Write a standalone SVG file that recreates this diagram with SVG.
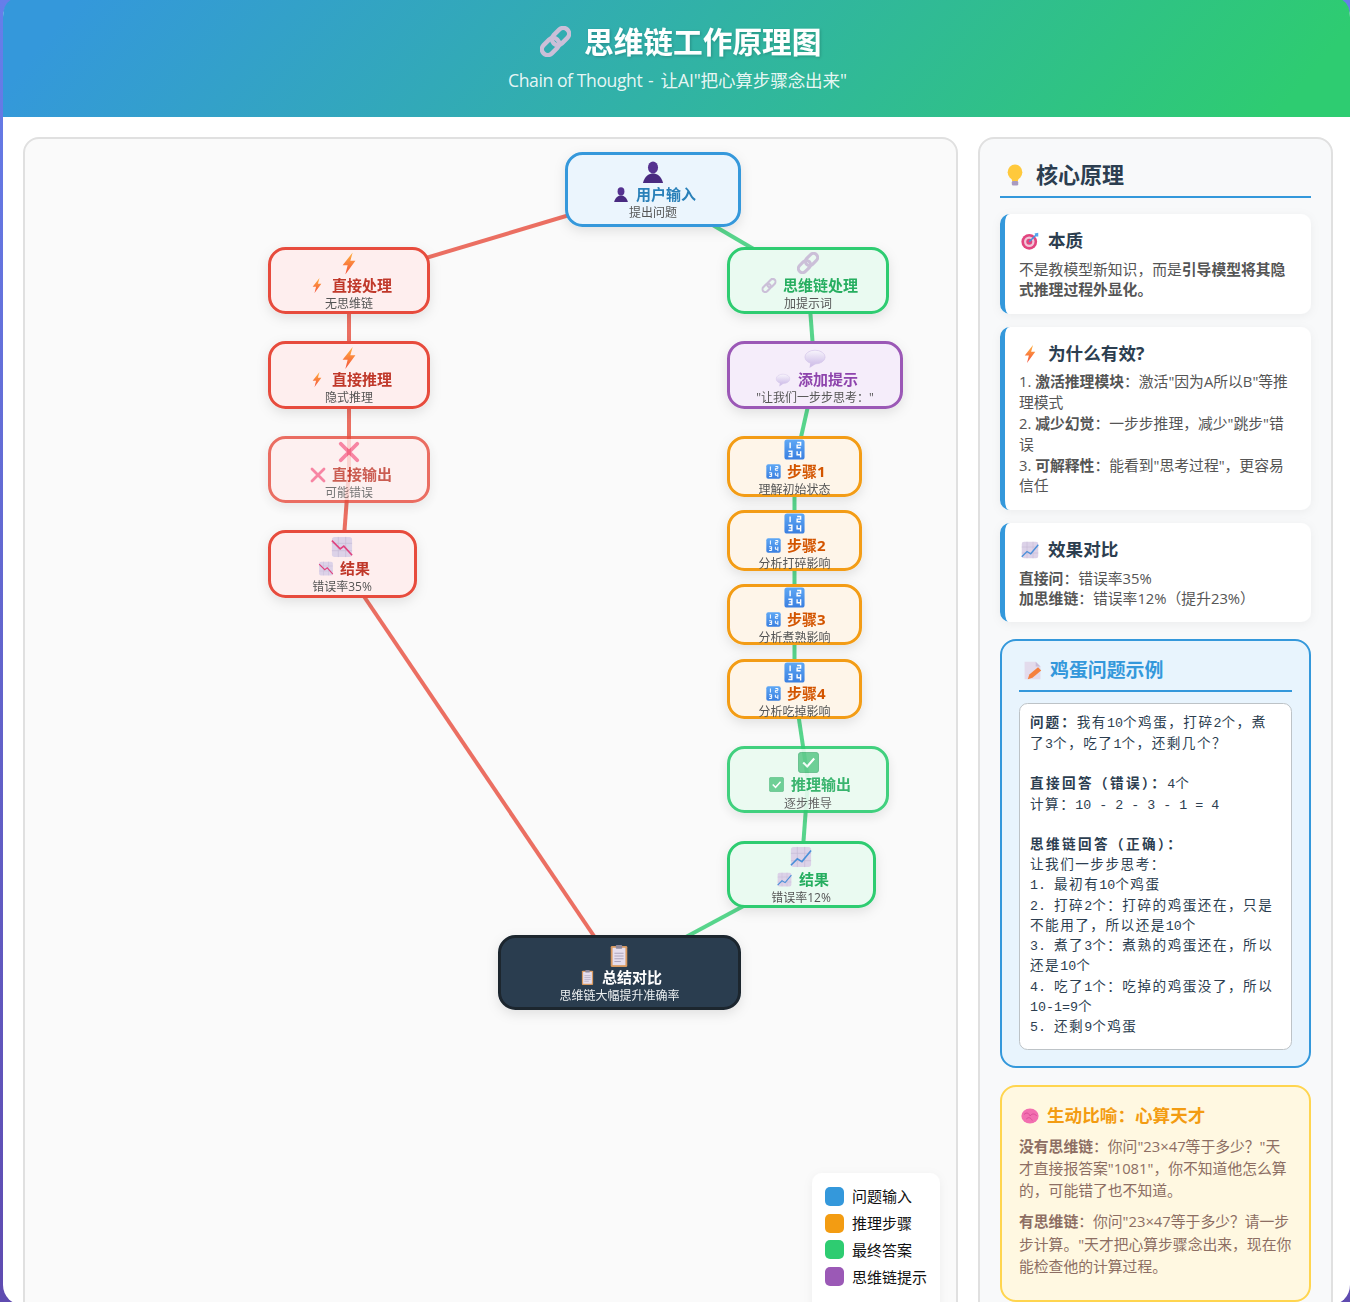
<svg xmlns="http://www.w3.org/2000/svg" width="1350" height="1302" viewBox="0 0 1350 1302">
<style>
text{font-family:"Open Sans","Noto Sans CJK SC","Noto Sans",sans-serif}
.n{stroke-width:3}
.blue{fill:#ebf5fd;stroke:#3498db}.red{fill:#feeeee;stroke:#e74c3c}.green{fill:#eafaf1;stroke:#2ecc71}.purple{fill:#f5edfa;stroke:#9b59b6}.orange{fill:#fef5e9;stroke:#f39c12}.dark{fill:#2c3e50;stroke:#1a252f}
.l{font-size:15px;font-weight:700}.s{font-size:12px;fill:#555;text-anchor:middle}
.lb{fill:#2980b9}.lr{fill:#c0392b}.lg{fill:#27ae60}.lp{fill:#8e44ad}.lo{fill:#d35400}.lw{fill:#fff}
.c{fill:none;stroke-width:4;stroke-opacity:.8}.cr{stroke:#e74c3c}.cg{stroke:#2ecc71}
.h4{font-size:17.6px;font-weight:700;fill:#2c3e50}
.w{fill:#fff}.bl{fill:#3498db}
.b{font-size:14.8px;fill:#555}.k{font-weight:700}
.e{font-size:13.6px;fill:#2c3e50;letter-spacing:1.5px}.e .m{font-family:"Liberation Mono",monospace;font-size:13.33px;letter-spacing:0}.e .k{letter-spacing:2.4px}.e .q{font-weight:700;letter-spacing:2px}
.a{font-size:14.8px;fill:#8d6e63}
.lg2{font-size:15px;fill:#111}
</style>
<defs>
<linearGradient id="bg" x1="0" y1="0" x2="0" y2="1"><stop offset="0" stop-color="#667eea"/><stop offset="1" stop-color="#5f4bb0"/></linearGradient>
<linearGradient id="hd" gradientUnits="userSpaceOnUse" x1="300" y1="-260" x2="1050" y2="380"><stop offset="0" stop-color="#3498db"/><stop offset="1" stop-color="#2ecc71"/></linearGradient>
<linearGradient id="gb" x1="0" y1="0" x2="0" y2="1"><stop offset="0" stop-color="#ffb23f"/><stop offset="1" stop-color="#f4503c"/></linearGradient>
<linearGradient id="gt" x1="0" y1="0" x2="0" y2="1"><stop offset="0" stop-color="#5fa8f5"/><stop offset="1" stop-color="#3a7fe0"/></linearGradient>
<linearGradient id="gs" x1="0" y1="0" x2="0" y2="1"><stop offset="0" stop-color="#f8f5fc"/><stop offset="1" stop-color="#d2c2ea"/></linearGradient>
<filter id="sh" x="-20%" y="-20%" width="140%" height="150%"><feDropShadow dx="0" dy="4" stdDeviation="6" flood-color="#000" flood-opacity=".1"/></filter>
<filter id="sc" x="-10%" y="-10%" width="120%" height="130%"><feDropShadow dx="0" dy="2" stdDeviation="5" flood-color="#000" flood-opacity=".05"/></filter>
<filter id="st" x="-5%" y="-20%" width="110%" height="150%"><feDropShadow dx="1" dy="1" stdDeviation="1.500" flood-color="#000" flood-opacity=".2"/></filter>
<symbol id="bolt" viewBox="0 0 24 24"><polygon points="16,0 5,14 10.500,14 8,24 19,9 13.500,9" fill="url(#gb)"/></symbol>
<symbol id="person" viewBox="0 0 24 24"><ellipse cx="12" cy="7" rx="5.500" ry="6.500" fill="#553090"/><path d="M1 24C3 16 8 13.500 12 13.500S21 16 23 24Z" fill="#4a2a80"/></symbol>
<symbol id="link" viewBox="0 0 24 24"><g transform="rotate(-45 12 12)" fill="none" stroke="#cbbfd8" stroke-width="3.400"><rect x="-1" y="7.500" width="15" height="9" rx="4.500"/><rect x="10" y="7.500" width="15" height="9" rx="4.500"/></g></symbol>
<symbol id="bubble" viewBox="0 0 24 24"><path d="M7 17L6 23L13.500 18Z" fill="#d2c2ea"/><ellipse cx="12" cy="11" rx="11" ry="7.500" fill="url(#gs)" stroke="#d6c8ea" stroke-width=".8"/></symbol>
<symbol id="cross" viewBox="0 0 24 24"><path d="M3 3L21 21M21 3L3 21" stroke="#f7688e" stroke-width="4.200" stroke-linecap="round"/></symbol>
<symbol id="chartd" viewBox="0 0 24 24"><rect x="1" y="1" width="22" height="22" rx="3" fill="#dcd2e8"/><path d="M8 1V23M16 1V23M1 8H23M1 16H23" stroke="#c5b9d5" stroke-width=".7"/><polyline points="1,5 10,14 14,11 23,21" fill="none" stroke="#e0437f" stroke-width="1.800"/></symbol>
<symbol id="chartu" viewBox="0 0 24 24"><rect x="1" y="1" width="22" height="22" rx="3" fill="#dcd2e8"/><path d="M8 1V23M16 1V23M1 8H23M1 16H23" stroke="#c5b9d5" stroke-width=".7"/><polyline points="1,21 8,14 13,17 23,5" fill="none" stroke="#4a90d9" stroke-width="1.800"/></symbol>
<symbol id="tile" viewBox="0 0 24 24"><rect x=".5" y=".5" width="23" height="23" rx="3" fill="url(#gt)"/><path d="M7 4V10.500M15 4H19V7H15V10H19M5 14H9V20H5M6 17H9M15 14V18H19M19 14V21" fill="none" stroke="#fff" stroke-width="1.600"/></symbol>
<symbol id="check" viewBox="0 0 24 24"><rect x=".5" y=".5" width="23" height="23" rx="3" fill="#5ecb8c" stroke="#4fb57c"/><polyline points="6,12 10.500,16.500 18.500,7.500" fill="none" stroke="#fff" stroke-width="2.400"/></symbol>
<symbol id="clip" viewBox="0 0 24 24"><rect x="3" y="1" width="18" height="23" rx="1.500" fill="#d99a60"/><rect x="5" y="3" width="14" height="19" fill="#e6deed"/><rect x="8.500" y="0" width="7" height="4" rx="1" fill="#8f8a9c"/><path d="M7 9H17M7 12H17M7 15H17M7 18H14" stroke="#a8a0b8" stroke-width="1"/></symbol>
<symbol id="bulb" viewBox="0 0 24 24"><ellipse cx="12" cy="9" rx="8" ry="8.500" fill="#ffc93c"/><path d="M8 15H16L15 19H9Z" fill="#ffc93c"/><rect x="8.500" y="18.500" width="7" height="5" rx="1.500" fill="#a99bc0"/></symbol>
<symbol id="target" viewBox="0 0 24 24"><circle cx="11" cy="13" r="10.500" fill="#e2457f"/><circle cx="11" cy="13" r="7" fill="#f1c6d8"/><circle cx="11" cy="13" r="4" fill="#e2457f"/><path d="M11 13L21 3" stroke="#3f94e0" stroke-width="2"/><path d="M18 2L23 1L23 6L20 6Z" fill="#55a7ee"/></symbol>
<symbol id="memo" viewBox="0 0 24 24"><path d="M2 1H16L22 7V23H2Z" fill="#e3dbec"/><path d="M16 1V7H22Z" fill="#c8bcd8"/><path d="M6 23L8 17L19 8L23 12L12 21Z" fill="#f5803e"/></symbol>
<symbol id="brain" viewBox="0 0 24 24"><ellipse cx="12" cy="12" rx="11.500" ry="10" fill="#f26fb0"/><path d="M4 10C8 6 11 9 12 12M12 12C15 8 19 9 21 12M7 16C10 13 13 14 15 18" fill="none" stroke="#d94a96" stroke-width="1.200"/></symbol>
</defs>

<rect width="1350" height="1302" fill="url(#bg)"/>
<rect x="3" y="-3" width="1347" height="1308" rx="20" fill="#fff"/>
<g id="header">
<path d="M3 117V17Q3 -3 23 -3H1330Q1350 -3 1350 17V117Z" fill="url(#hd)"/>
<use href="#link" x="540" y="26" width="31" height="31"/>
<text x="584" y="53" font-size="29.700" font-weight="700" fill="#fff" filter="url(#st)" style="font-family:'Noto Sans CJK SC',sans-serif">思维链工作原理图</text>
<text x="508" y="87" font-size="17.600" fill="#fff" fill-opacity=".9" textLength="339"><tspan letter-spacing="-.25">Chain of Thought</tspan><tspan letter-spacing="1.300"> - </tspan>让AI"把心算步骤念出来"</text>
</g>

<rect id="diagram-panel" x="24" y="138" width="933" height="1200" rx="15" fill="#fafafa" stroke="#e0e0e0" stroke-width="2"/>

<g id="connectors">
<line class="c cr" x1="653" y1="190" x2="349" y2="281"/>
<line class="c cg" x1="653" y1="190" x2="808" y2="281"/>
<line class="c cr" x1="349" y1="281" x2="349" y2="375"/>
<line class="c cr" x1="349" y1="375" x2="349" y2="470"/>
<line class="c cr" x1="349" y1="470" x2="342" y2="564"/>
<line class="c cr" x1="342" y1="564" x2="619" y2="973"/>
<line class="c cg" x1="808" y1="281" x2="815" y2="375"/>
<line class="c cg" x1="815" y1="375" x2="794.500" y2="466"/>
<line class="c cg" x1="794.500" y1="466" x2="794.500" y2="540"/>
<line class="c cg" x1="794.500" y1="540" x2="794.500" y2="615"/>
<line class="c cg" x1="794.500" y1="615" x2="794.500" y2="689"/>
<line class="c cg" x1="794.500" y1="689" x2="808" y2="780"/>
<line class="c cg" x1="808" y1="780" x2="801" y2="875"/>
<line class="c cg" x1="801" y1="875" x2="619" y2="973"/>
</g>

<g id="node-input" filter="url(#sh)">
<rect class="n blue" x="566.500" y="153.500" width="173" height="72" rx="16"/>
<use href="#person" x="642" y="161" width="22" height="22"/><use href="#person" x="613.500" y="187" width="15" height="15"/>
<text class="l lb" x="636" y="200">用户输入</text><text class="s" x="653" y="217">提出问题</text>
</g>
<g id="node-direct" filter="url(#sh)">
<rect class="n red" x="269.500" y="248.500" width="159" height="64" rx="16"/>
<use href="#bolt" x="338" y="252.500" width="22" height="22"/><use href="#bolt" x="309.500" y="278" width="15" height="15"/>
<text class="l lr" x="332" y="291">直接处理</text><text class="s" x="349" y="308">无思维链</text>
</g>
<g id="node-cot" filter="url(#sh)">
<rect class="n green" x="728.500" y="248.500" width="159" height="64" rx="16"/>
<use href="#link" x="797" y="252" width="22" height="22"/><use href="#link" x="761.500" y="278" width="15" height="15"/>
<text class="l lg" x="783" y="291">思维链处理</text><text class="s" x="808" y="308">加提示词</text>
</g>
<g id="node-prompt" filter="url(#sh)">
<rect class="n purple" x="728.500" y="342.500" width="173" height="65" rx="16"/>
<use href="#bubble" x="804" y="347" width="22" height="22"/><use href="#bubble" x="775.500" y="372" width="15" height="15"/>
<text class="l lp" x="798" y="385">添加提示</text><text class="s" x="815" y="402">"让我们一步步思考："</text>
</g>
<g id="node-infer" filter="url(#sh)">
<rect class="n red" x="269.500" y="342.500" width="159" height="65" rx="16"/>
<use href="#bolt" x="338" y="347" width="22" height="22"/><use href="#bolt" x="309.500" y="372" width="15" height="15"/>
<text class="l lr" x="332" y="385">直接推理</text><text class="s" x="349" y="402">隐式推理</text>
</g>
<g id="node-wrong" filter="url(#sh)" opacity=".8">
<rect class="n red" x="269.500" y="437.500" width="159" height="64" rx="16"/>
<use href="#cross" x="338" y="441" width="22" height="22"/><use href="#cross" x="310" y="467" width="16" height="16"/>
<text class="l lr" x="332" y="480">直接输出</text><text class="s" x="349" y="497">可能错误</text>
</g>
<g id="node-res-bad" filter="url(#sh)">
<rect class="n red" x="269.500" y="531.500" width="146" height="65" rx="16"/>
<use href="#chartd" x="331" y="536" width="22" height="22"/><use href="#chartd" x="318.500" y="561" width="15" height="15"/>
<text class="l lr" x="340" y="574">结果</text><text class="s" x="342" y="591">错误率35%</text>
</g>
<g id="node-step1" filter="url(#sh)">
<rect class="n orange" x="728.500" y="437.500" width="132" height="58" rx="16"/>
<use href="#tile" x="784" y="439" width="21" height="21"/><use href="#tile" x="766" y="464" width="15" height="15"/>
<text class="l lo" x="787" y="477">步骤1</text><text class="s" x="794.500" y="494">理解初始状态</text>
</g>
<g id="node-step2" filter="url(#sh)">
<rect class="n orange" x="728.500" y="511.500" width="132" height="58" rx="16"/>
<use href="#tile" x="784" y="513" width="21" height="21"/><use href="#tile" x="766" y="538" width="15" height="15"/>
<text class="l lo" x="787" y="551">步骤2</text><text class="s" x="794.500" y="568">分析打碎影响</text>
</g>
<g id="node-step3" filter="url(#sh)">
<rect class="n orange" x="728.500" y="585.500" width="132" height="58" rx="16"/>
<use href="#tile" x="784" y="587" width="21" height="21"/><use href="#tile" x="766" y="612" width="15" height="15"/>
<text class="l lo" x="787" y="625">步骤3</text><text class="s" x="794.500" y="642">分析煮熟影响</text>
</g>
<g id="node-step4" filter="url(#sh)">
<rect class="n orange" x="728.500" y="660.500" width="132" height="57" rx="16"/>
<use href="#tile" x="784" y="662" width="21" height="21"/><use href="#tile" x="766" y="686" width="15" height="15"/>
<text class="l lo" x="787" y="699">步骤4</text><text class="s" x="794.500" y="716">分析吃掉影响</text>
</g>
<g id="node-output" filter="url(#sh)" opacity=".9">
<rect class="n green" x="728.500" y="747.500" width="159" height="64" rx="16"/>
<use href="#check" x="798" y="752" width="21" height="21"/><use href="#check" x="769" y="777" width="15" height="15"/>
<text class="l lg" x="791" y="790">推理输出</text><text class="s" x="808" y="808">逐步推导</text>
</g>
<g id="node-res-good" filter="url(#sh)">
<rect class="n green" x="728.500" y="842.500" width="146" height="64" rx="16"/>
<use href="#chartu" x="790" y="846" width="22" height="22"/><use href="#chartu" x="777" y="872" width="15" height="15"/>
<text class="l lg" x="799" y="885">结果</text><text class="s" x="801" y="902">错误率12%</text>
</g>
<g id="node-summary" filter="url(#sh)">
<rect class="n dark" x="499.500" y="936.500" width="240" height="72" rx="16"/>
<use href="#clip" x="608" y="945" width="22" height="22"/><use href="#clip" x="580" y="970" width="15" height="15"/>
<text class="l lw" x="602" y="983">总结对比</text><text class="s" style="fill:#ecf0f1" x="619.500" y="1000">思维链大幅提升准确率</text>
</g>

<g id="legend">
<rect x="812" y="1173" width="128" height="140" rx="10" fill="#fff" filter="url(#sc)"/>
<rect x="825" y="1187" width="19" height="19" rx="5" fill="#3498db"/><text class="lg2" x="852" y="1202">问题输入</text>
<rect x="825" y="1214" width="19" height="19" rx="5" fill="#f39c12"/><text class="lg2" x="852" y="1229">推理步骤</text>
<rect x="825" y="1240" width="19" height="19" rx="5" fill="#2ecc71"/><text class="lg2" x="852" y="1256">最终答案</text>
<rect x="825" y="1267" width="19" height="19" rx="5" fill="#9b59b6"/><text class="lg2" x="852" y="1283">思维链提示</text>
</g>

<g id="side">
<rect x="979" y="138" width="353" height="1200" rx="15" fill="#f8f9fa" stroke="#e0e0e0" stroke-width="2"/>
<use href="#bulb" x="1004" y="164" width="22" height="22"/>
<text x="1036" y="183" font-size="22" font-weight="700" fill="#2c3e50">核心原理</text>
<rect x="1000" y="196" width="311" height="2" fill="#3498db"/>

<g id="card-essence">
<rect class="w" x="1000" y="214" width="311" height="100" rx="10" filter="url(#sc)"/>
<path class="bl" d="M1010 214A10 10 0 0 0 1000 224V304A10 10 0 0 0 1010 314Q1005 314 1005 304V224Q1005 214 1010 214Z"/>
<use href="#target" x="1021" y="232" width="18" height="18"/>
<text class="h4" x="1048" y="247">本质</text>
<text class="b" x="1019" y="275">不是教模型新知识，而是<tspan class="k">引导模型将其隐</tspan></text>
<text class="b" x="1019" y="295"><tspan class="k">式推理过程外显化。</tspan></text>
</g>
<g id="card-why">
<rect class="w" x="1000" y="327" width="311" height="183" rx="10" filter="url(#sc)"/>
<path class="bl" d="M1010 327A10 10 0 0 0 1000 337V500A10 10 0 0 0 1010 510Q1005 510 1005 500V337Q1005 327 1010 327Z"/>
<use href="#bolt" x="1021" y="345" width="18" height="18"/>
<text class="h4" x="1048" y="360">为什么有效?</text>
<text class="b" x="1019" y="387">1. <tspan class="k">激活推理模块</tspan>：激活"因为A所以B"等推</text>
<text class="b" x="1019" y="408">理模式</text>
<text class="b" x="1019" y="429">2. <tspan class="k">减少幻觉</tspan>：一步步推理，减少"跳步"错</text>
<text class="b" x="1019" y="450">误</text>
<text class="b" x="1019" y="471">3. <tspan class="k">可解释性</tspan>：能看到"思考过程"，更容易</text>
<text class="b" x="1019" y="491">信任</text>
</g>
<g id="card-effect">
<rect class="w" x="1000" y="523" width="311" height="99" rx="10" filter="url(#sc)"/>
<path class="bl" d="M1010 523A10 10 0 0 0 1000 533V612A10 10 0 0 0 1010 622Q1005 622 1005 612V533Q1005 523 1010 523Z"/>
<use href="#chartu" x="1021" y="541" width="18" height="18"/>
<text class="h4" x="1048" y="556">效果对比</text>
<text class="b" x="1019" y="584"><tspan class="k">直接问</tspan>：错误率35%</text>
<text class="b" x="1019" y="604"><tspan class="k">加思维链</tspan>：错误率12%（提升23%）</text>
</g>
<g id="card-egg">
<rect x="1001" y="640" width="309" height="427" rx="15" fill="#e8f4fd" stroke="#3498db" stroke-width="2"/>
<use href="#memo" x="1023" y="661" width="19" height="19"/>
<text x="1050" y="677" font-size="18.900" font-weight="700" fill="#3498db">鸡蛋问题示例</text>
<rect x="1019" y="690" width="273" height="2" fill="#3498db"/>
<rect x="1019.500" y="703.500" width="272" height="346" rx="8" fill="#fff" stroke="#bdc3c7"/>
<text class="e" x="1030" y="727"><tspan class="q">问题：</tspan>我有<tspan class="m">10</tspan>个鸡蛋，打碎<tspan class="m">2</tspan>个，煮</text>
<text class="e" x="1030" y="748">了<tspan class="m">3</tspan>个，吃了<tspan class="m">1</tspan>个，还剩几个？</text>
<text class="e" x="1030" y="788"><tspan class="k">直接回答（错误）：</tspan><tspan class="m">4</tspan>个</text>
<text class="e" x="1030" y="809">计算：<tspan class="m">10 - 2 - 3 - 1 = 4</tspan></text>
<text class="e" x="1030" y="849"><tspan class="k">思维链回答（正确）：</tspan></text>
<text class="e" x="1030" y="869">让我们一步步思考：</text>
<text class="e" x="1030" y="889"><tspan class="m">1. </tspan>最初有<tspan class="m">10</tspan>个鸡蛋</text>
<text class="e" x="1030" y="910"><tspan class="m">2. </tspan>打碎<tspan class="m">2</tspan>个：打碎的鸡蛋还在，只是</text>
<text class="e" x="1030" y="930">不能用了，所以还是<tspan class="m">10</tspan>个</text>
<text class="e" x="1030" y="950"><tspan class="m">3. </tspan>煮了<tspan class="m">3</tspan>个：煮熟的鸡蛋还在，所以</text>
<text class="e" x="1030" y="970">还是<tspan class="m">10</tspan>个</text>
<text class="e" x="1030" y="991"><tspan class="m">4. </tspan>吃了<tspan class="m">1</tspan>个：吃掉的鸡蛋没了，所以</text>
<text class="e" x="1030" y="1011"><tspan class="m">10-1=9</tspan>个</text>
<text class="e" x="1030" y="1031"><tspan class="m">5. </tspan>还剩<tspan class="m">9</tspan>个鸡蛋</text>
</g>
<g id="card-analogy">
<rect x="1001" y="1086" width="309" height="215" rx="15" fill="#fff8e1" stroke="#ffd54f" stroke-width="2"/>
<use href="#brain" x="1021" y="1107" width="18" height="18"/>
<text x="1047" y="1122" font-size="17.600" font-weight="700" fill="#f39c12">生动比喻：心算天才</text>
<text class="a" x="1019" y="1152"><tspan class="k">没有思维链</tspan>：你问"23×47等于多少？"天</text>
<text class="a" x="1019" y="1174">才直接报答案"1081"，你不知道他怎么算</text>
<text class="a" x="1019" y="1196">的，可能错了也不知道。</text>
<text class="a" x="1019" y="1227"><tspan class="k">有思维链</tspan>：你问"23×47等于多少？请一步</text>
<text class="a" x="1019" y="1250">步计算。"天才把心算步骤念出来，现在你</text>
<text class="a" x="1019" y="1272">能检查他的计算过程。</text>
</g>
</g>
</svg>
